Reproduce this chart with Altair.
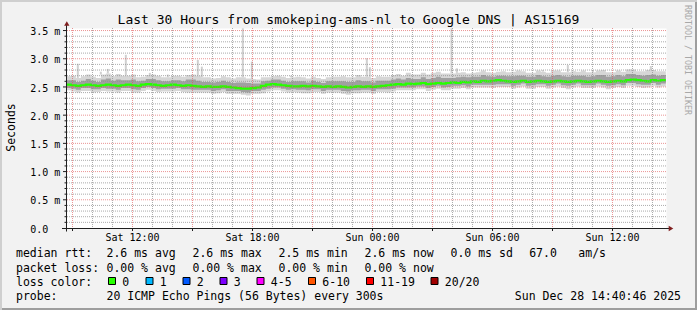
import altair as alt
import pandas as pd

# ---------------- chart values ----------------
TITLE = "Last 30 Hours from smokeping-ams-nl to Google DNS | AS15169"
WATERMARK = "RRDTOOL / TOBI OETIKER"
Y_TITLE = "Seconds"

# median RTT (ms) per 15-minute step, Sat 08:40 -> Sun 14:40 (UTC)
median_ms = [
    2.54, 2.53, 2.52, 2.53, 2.54, 2.53, 2.52, 2.53, 2.54, 2.53, 2.52, 2.53, 2.54,
    2.53, 2.52, 2.54, 2.55, 2.54, 2.53, 2.52, 2.53, 2.54, 2.53, 2.52, 2.53, 2.52,
    2.51, 2.50, 2.51, 2.50, 2.50, 2.51, 2.50, 2.49,
    2.48, 2.47, 2.47, 2.48, 2.49,
    2.52, 2.54, 2.55, 2.54, 2.53, 2.52, 2.51,
    2.51, 2.52, 2.51, 2.52, 2.51, 2.50, 2.51, 2.50, 2.51,
    2.50, 2.49, 2.50, 2.51, 2.50, 2.51, 2.50, 2.51, 2.52, 2.53,
    2.54, 2.55, 2.54, 2.56, 2.55, 2.56, 2.57, 2.55, 2.56, 2.57, 2.56, 2.57,
    2.58, 2.57, 2.59, 2.58, 2.60, 2.59, 2.61, 2.60, 2.61,
    2.62, 2.61, 2.60, 2.59, 2.60, 2.61, 2.59, 2.60, 2.61, 2.60, 2.59, 2.60, 2.61, 2.60, 2.59,
    2.60, 2.61, 2.60, 2.59, 2.60, 2.61, 2.60, 2.59, 2.60,
    2.61, 2.60, 2.62, 2.63, 2.62, 2.61, 2.60, 2.62, 2.61, 2.62,
]
# light smoke extent around the median, in 0.01 ms
smoke_top_off = [
    15, 17, 14, 16, 18, 15, 14, 19, 20, 16,
    21, 17, 16, 19, 15, 14, 16, 18, 17, 15,
    14, 16, 17, 16, 18, 20, 19, 17, 16, 15,
    16, 18, 17, 16, 19, 20, 18, 16, 14, 15,
    13, 14, 16, 15, 14, 16, 17, 15, 14, 16,
    15, 14, 16, 18, 17, 19, 18, 17, 20, 18,
    17, 16, 18, 16, 15, 17, 18, 16, 19, 17,
    16, 18, 17, 19, 20, 18, 17, 16, 18, 17,
    16, 15, 17, 18, 16, 14, 15, 17, 16, 18,
    19, 17, 16, 15, 18, 17, 16, 19, 18, 16,
    17, 18, 16, 19, 17, 16, 18, 20, 17, 16,
    18, 17, 19, 18, 16, 17, 20, 18, 17, 16,
]
smoke_bot_off = [
    10, 11, 12, 10, 11, 13, 11, 10, 12, 11,
    12, 10, 11, 13, 12, 11, 10, 11, 12, 10,
    11, 12, 10, 11, 13, 12, 11, 10, 11, 12,
    11, 10, 12, 11, 10, 11, 12, 10, 11, 13,
    12, 11, 10, 11, 12, 10, 11, 13, 12, 11,
    10, 12, 11, 10, 11, 12, 13, 11, 12, 10,
    11, 12, 10, 11, 13, 12, 11, 10, 12, 11,
    10, 11, 12, 11, 10, 12, 13, 11, 10, 11,
    12, 11, 10, 12, 11, 13, 12, 11, 10, 12,
    11, 10, 12, 13, 11, 10, 12, 11, 10, 12,
    13, 11, 10, 12, 11, 12, 10, 11, 13, 12,
    11, 12, 10, 11, 12, 13, 11, 10, 12, 11,
]
# dark smoke extent around the median, in 0.01 ms
dark_top_off = [
    8, 9, 7, 8, 10, 8, 7, 10, 11, 8,
    11, 9, 8, 10, 8, 7, 9, 10, 9, 8,
    7, 8, 9, 8, 10, 11, 10, 9, 8, 8,
    9, 10, 9, 8, 10, 11, 10, 8, 7, 8,
    7, 8, 9, 8, 7, 9, 9, 8, 7, 9,
    8, 7, 9, 10, 9, 10, 10, 9, 11, 10,
    9, 8, 10, 9, 8, 9, 10, 9, 10, 9,
    8, 10, 9, 10, 11, 10, 9, 8, 10, 9,
    9, 8, 9, 10, 9, 7, 8, 9, 9, 10,
    10, 9, 9, 8, 10, 9, 9, 10, 10, 9,
    9, 10, 9, 10, 9, 9, 10, 11, 9, 9,
    10, 9, 11, 10, 9, 9, 11, 10, 9, 9,
]
dark_bot_off = [
    6, 6, 7, 5, 6, 7, 6, 5, 7, 6,
    7, 5, 6, 7, 7, 6, 5, 6, 7, 5,
    6, 7, 5, 6, 7, 7, 6, 5, 6, 7,
    6, 5, 7, 6, 5, 6, 7, 5, 6, 7,
    7, 6, 5, 6, 7, 5, 6, 7, 7, 6,
    5, 7, 6, 5, 6, 7, 7, 6, 7, 5,
    6, 7, 5, 6, 7, 7, 6, 5, 7, 6,
    5, 6, 7, 6, 5, 7, 7, 6, 5, 6,
    7, 6, 5, 7, 6, 7, 7, 6, 5, 7,
    6, 5, 7, 7, 6, 5, 7, 6, 5, 7,
    7, 6, 5, 7, 6, 7, 5, 6, 7, 7,
    6, 7, 5, 6, 7, 7, 6, 5, 7, 6,
]
# isolated smoke spikes (time, top in ms)
spike_times = [
    "2025-12-27T09:16:00Z", "2025-12-27T10:25:00Z", "2025-12-27T10:46:00Z",
    "2025-12-27T11:40:00Z", "2025-12-27T12:52:00Z", "2025-12-27T13:46:00Z",
    "2025-12-27T15:16:00Z", "2025-12-27T15:28:00Z", "2025-12-27T17:31:00Z",
    "2025-12-27T17:58:00Z", "2025-12-27T19:55:00Z", "2025-12-27T23:43:00Z",
    "2025-12-27T23:52:00Z", "2025-12-28T03:57:00Z", "2025-12-28T04:13:00Z",
    "2025-12-28T05:22:00Z", "2025-12-28T08:31:00Z", "2025-12-28T09:46:00Z",
    "2025-12-28T10:07:00Z", "2025-12-28T11:01:00Z", "2025-12-28T12:52:00Z",
    "2025-12-28T13:55:00Z",
]
spike_tops = [2.91, 2.77, 2.82, 3.07, 2.75, 2.72, 2.98, 2.86, 3.54, 2.95, 2.70,
              3.01, 2.85, 3.54, 2.83, 2.77, 2.80, 2.89, 2.77, 2.80, 2.71, 2.87]

y_label_values = [0.0, 0.5, 1.0, 1.5, 2.0, 2.5, 3.0, 3.5]
x_label_times = ["2025-12-27T12:00:00Z", "2025-12-27T18:00:00Z", "2025-12-28T00:00:00Z",
                 "2025-12-28T06:00:00Z", "2025-12-28T12:00:00Z"]

row_rtt = ["median rtt:", "2.6 ms avg", "2.6 ms max", "2.5 ms min", "2.6 ms now",
           "0.0 ms sd", "67.0", "am/s"]
row_loss = ["packet loss:", "0.00 % avg", "0.00 % max", "0.00 % min", "0.00 % now"]
row_color = "loss color:"
loss_labels = ["0", "1", "2", "3", "4-5", "6-10", "11-19", "20/20"]
loss_colors = ["#26ff00", "#00b8ff", "#0059ff", "#7e00ff", "#ff00ff", "#ff5500",
               "#ff0000", "#a10000"]
row_probe = ["probe:", "20 ICMP Echo Pings (56 Bytes) every 300s"]
stamp = "Sun Dec 28 14:40:46 2025"

# ---------------- layout / style ----------------
FONT = "DejaVu Sans Mono"
OX, OY = 66, 28          # plot origin inside the 697x310 canvas
W, H = 600, 200
def rx(x): return x - OX
def ry(y): return y - OY

col_x = [16, 106.5, 192.5, 278.5, 364.5, 450.5, 529.2, 578.3]
row_y = [257.3, 271.5, 285.5, 299.7]
swatch_x = [108, 145.5, 182.5, 219.5, 256.5, 308, 366, 430.5]

GRID = "rgba(143,143,143,0.75)"
MGRID = "rgba(222,79,79,0.6)"
AXIS = "#1f1f1f"
ARROW = "#801f1f"

# ---------------- frames ----------------
n = len(median_ms)
times = pd.date_range("2025-12-27 08:40", periods=n + 1, freq="15min")
iso = [t.strftime("%Y-%m-%dT%H:%M:%SZ") for t in times]
def ext(a): return list(a) + [a[-1]]
med = ext(median_ms)
smoke = pd.DataFrame({
    "t": iso,
    "med": med,
    "lo": [round(m - d / 100, 3) for m, d in zip(med, ext(smoke_bot_off))],
    "hi": [round(m + d / 100, 3) for m, d in zip(med, ext(smoke_top_off))],
    "dlo": [round(m - d / 100, 3) for m, d in zip(med, ext(dark_bot_off))],
    "dhi": [round(m + d / 100, 3) for m, d in zip(med, ext(dark_top_off))],
})
t0 = pd.Timestamp("2025-12-27 08:40")
sp_base = []
for s in spike_times:
    k = min(n - 1, int((pd.Timestamp(s[:-1]) - t0).total_seconds() // 900))
    sp_base.append(round(median_ms[k] + smoke_top_off[k] / 100, 3))
spikes = pd.DataFrame({"t": spike_times, "top": spike_tops, "base": sp_base})

hours = pd.date_range("2025-12-27 09:00", "2025-12-28 14:00", freq="h")
maj_t = [h.strftime("%Y-%m-%dT%H:%M:%SZ") for h in hours if h.hour % 3 == 0]
min_t = [h.strftime("%Y-%m-%dT%H:%M:%SZ") for h in hours if h.hour % 3 != 0]
yv = [round(k * 0.1, 1) for k in range(1, 36)]
maj_y = [v for v in yv if round(v * 10) % 5 == 0]
min_y = [v for v in yv if round(v * 10) % 5 != 0]

x_labels = pd.DataFrame({
    "t": x_label_times,
    "lab": [pd.Timestamp(s[:-1]).strftime("%a %H:%M") for s in x_label_times],
})
y_labels = pd.DataFrame({
    "v": y_label_values,
    "lab": ["0.0" if v == 0 else f"{v:.1f} m" for v in y_label_values],
})

def dt(d, h, m=0, s=0):
    return alt.DateTime(year=2025, month=12, date=d, hours=h, minutes=m, seconds=s, utc=True)

xs = alt.Scale(type="utc", domain=[dt(27, 8, 40, 30), dt(28, 14, 40, 30)])
ys = alt.Scale(domain=[0, 3.545], nice=False, zero=False)
XT = alt.X("t:T", scale=xs, axis=None)

layers = []
# smoke
layers.append(alt.Chart(spikes).mark_rule(color="#d0d0d0", strokeWidth=2, clip=True).encode(
    x=XT, y=alt.Y("top:Q", scale=ys, axis=None), y2="base:Q"))
layers.append(alt.Chart(smoke).mark_area(interpolate="step-after", color="#d6d6d6", clip=True).encode(
    x=XT, y=alt.Y("lo:Q", scale=ys, axis=None), y2="hi:Q"))
layers.append(alt.Chart(smoke).mark_area(interpolate="step-after", color="#a0a0a0", clip=True).encode(
    x=XT, y=alt.Y("dlo:Q", scale=ys, axis=None), y2="dhi:Q"))
layers.append(alt.Chart(smoke).mark_line(interpolate="step-after", color="#26ff00", strokeWidth=2.2,
                                         clip=True).encode(
    x=XT, y=alt.Y("med:Q", scale=ys, axis=None)))

# grid (rrdtool paints it over the graph)
def vgrid(ts, color):
    return alt.Chart(pd.DataFrame({"t": ts})).mark_rule(color=color, strokeDash=[1, 1]).encode(x=XT)
def hgrid(vs, color):
    return alt.Chart(pd.DataFrame({"v": vs})).mark_rule(color=color, strokeDash=[1, 1]).encode(
        y=alt.Y("v:Q", scale=ys, axis=None))
layers += [vgrid(min_t, GRID), hgrid(min_y, GRID), vgrid(maj_t, MGRID), hgrid(maj_y, MGRID)]

# axis lines, ticks, arrows, tick labels
layers.append(alt.Chart(pd.DataFrame({"t": maj_t})).mark_rule(color=AXIS).encode(
    x=XT, y=alt.value(H + 0.5), y2=alt.value(H + 3)))
layers.append(alt.Chart(pd.DataFrame({"v": maj_y})).mark_rule(color=AXIS).encode(
    y=alt.Y("v:Q", scale=ys, axis=None), x=alt.value(-3), x2=alt.value(0.5)))
layers.append(alt.Chart(pd.DataFrame({"v": min_y})).mark_rule(color=AXIS).encode(
    y=alt.Y("v:Q", scale=ys, axis=None), x=alt.value(-1.5), x2=alt.value(0.5)))
layers.append(alt.Chart().mark_rule(color=AXIS).encode(
    x=alt.value(-4), x2=alt.value(W + 3), y=alt.value(H + 0.5)))
layers.append(alt.Chart().mark_rule(color=AXIS).encode(
    x=alt.value(0.5), y=alt.value(-4), y2=alt.value(H + 3.5)))
layers.append(alt.Chart().mark_point(shape="triangle-right", filled=True, size=28, color=ARROW,
                                     opacity=1).encode(x=alt.value(W + 5), y=alt.value(H + 0.5)))
layers.append(alt.Chart().mark_point(shape="triangle-up", filled=True, size=28, color=ARROW,
                                     opacity=1).encode(x=alt.value(0.8), y=alt.value(-4.5)))
layers.append(alt.Chart(x_labels).mark_text(font=FONT, fontSize=10, align="center",
                                            baseline="alphabetic", color="black").encode(
    x=XT, y=alt.value(ry(240.7)), text="lab:N"))
layers.append(alt.Chart(y_labels).mark_text(font=FONT, fontSize=10, align="left",
                                            baseline="alphabetic", color="black", dy=4.7).encode(
    y=alt.Y("v:Q", scale=ys, axis=None), x=alt.value(rx(30.2)), text="lab:N"))

# texts
def txt(s, x, y, size=11.5, align="left", angle=0, color="black"):
    kw = dict(text=s, font=FONT, fontSize=size, align=align, baseline="alphabetic", color=color)
    if angle:
        kw["angle"] = angle
    return alt.Chart().mark_text(**kw).encode(x=alt.value(rx(x)), y=alt.value(ry(y)))

layers.append(txt(TITLE, 348.5, 24, size=13, align="center"))
layers.append(txt(Y_TITLE, 15, 127.5, align="center", angle=270))
layers.append(txt(WATERMARK, 684.5, 5, size=8.3, angle=90, color="#a8a8a8"))
for s, x in zip(row_rtt, col_x):
    layers.append(txt(s, x, row_y[0]))
for s, x in zip(row_loss, col_x):
    layers.append(txt(s, x, row_y[1]))
layers.append(txt(row_color, col_x[0], row_y[2]))
for lab, c, sx in zip(loss_labels, loss_colors, swatch_x):
    layers.append(alt.Chart().mark_rect(fill=c, stroke="black", strokeWidth=1).encode(
        x=alt.value(rx(sx + 0.5)), x2=alt.value(rx(sx + 7.5)),
        y=alt.value(ry(277.5)), y2=alt.value(ry(284.5))))
    layers.append(txt(lab, sx + 14.3, row_y[2]))
layers.append(txt(row_probe[0], col_x[0], row_y[3]))
layers.append(txt(row_probe[1], col_x[1], row_y[3]))
layers.append(txt(stamp, 681, row_y[3], align="right"))

# 3D frame
FW, FH = 697, 310
layers.append(alt.Chart().mark_rule(color="#cfcfcf", strokeWidth=2).encode(
    x=alt.value(rx(0)), x2=alt.value(rx(FW)), y=alt.value(ry(1))))
layers.append(alt.Chart().mark_rule(color="#cfcfcf", strokeWidth=2).encode(
    x=alt.value(rx(1)), y=alt.value(ry(0)), y2=alt.value(ry(FH))))
layers.append(alt.Chart().mark_rule(color="#9e9e9e", strokeWidth=2).encode(
    x=alt.value(rx(2)), x2=alt.value(rx(FW)), y=alt.value(ry(FH - 1))))
layers.append(alt.Chart().mark_rule(color="#9e9e9e", strokeWidth=2).encode(
    x=alt.value(rx(FW - 1)), y=alt.value(ry(2)), y2=alt.value(ry(FH))))

chart = alt.layer(*layers).properties(
    width=W, height=H,
    padding={"left": OX, "top": OY, "right": FW - OX - W, "bottom": FH - OY - H},
    autosize=alt.AutoSizeParams(type="none"),
    background="#f2f2f2",
).configure_view(fill="white", stroke="transparent")

chart.save("out.html", embed_options={"renderer": "svg", "actions": False})
